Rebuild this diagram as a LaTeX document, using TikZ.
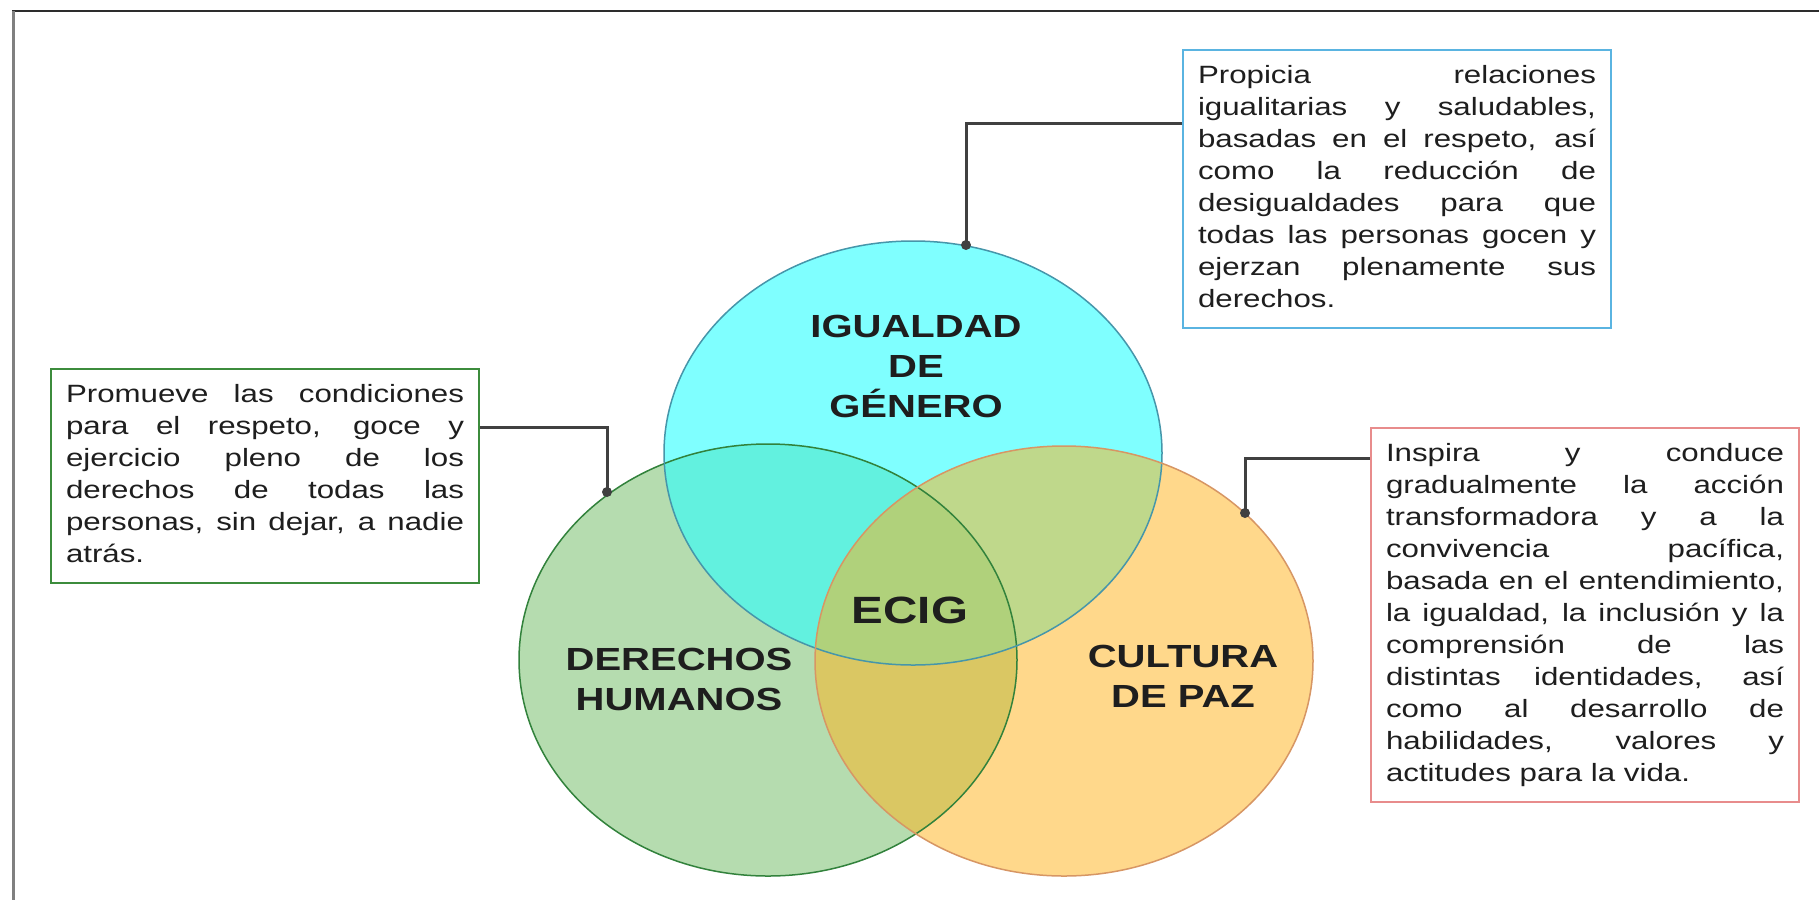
\documentclass[tikz,border=0pt]{standalone}
\usepackage{fontspec}
\setmainfont[FakeStretch=1.25]{Liberation Sans}
\usetikzlibrary{positioning}
\definecolor{igfill}{RGB}{43,255,255}
\definecolor{igline}{RGB}{70,150,170}
\definecolor{dhfill}{RGB}{132,198,123}
\definecolor{dhline}{RGB}{50,130,60}
\definecolor{cpfill}{RGB}{255,179,25}
\definecolor{cpline}{RGB}{215,150,100}
\definecolor{igbox}{RGB}{90,180,225}
\definecolor{dhbox}{RGB}{60,140,60}
\definecolor{cpbox}{RGB}{232,140,140}
\definecolor{conncol}{RGB}{64,64,64}
\definecolor{framedark}{RGB}{45,45,45}
\definecolor{framegray}{RGB}{128,128,128}
\definecolor{txt}{RGB}{30,30,30}
\hyphenpenalty=10000
\tolerance=10000

\begin{document}
\begin{tikzpicture}[x=1pt,y=-1pt,
  venn/.style={fill opacity=0.6},
  rim/.style={line width=1.5pt},
  txtbox/.style={draw, line width=2pt, fill=white, text=txt, align=justify, text width=398pt, inner xsep=15pt, inner ysep=11pt, anchor=north west, font=\fontsize{25}{32}\selectfont},
  conn/.style={conncol, line width=3pt},
  lbl/.style={font=\bfseries\fontsize{32}{40}\selectfont, align=center, text=txt}]

\useasboundingbox (0,0) rectangle (1819,900);
\fill[white] (0,0) rectangle (1819,900);

\draw[framedark, line width=2.5pt] (12,11) -- (1819,11);
\draw[framegray, line width=3pt] (13,11) -- (13,900);

% circles
\fill[dhfill, venn] (768,660) ellipse [x radius=249, y radius=216];
\fill[igfill, venn] (913,453) ellipse [x radius=249, y radius=212];
\fill[cpfill, venn, fill opacity=0.5] (1064,661) ellipse [x radius=249, y radius=215];
\draw[dhline, rim] (768,660) ellipse [x radius=249, y radius=216];
\draw[igline, rim] (913,453) ellipse [x radius=249, y radius=212];
\draw[cpline, rim] (1064,661) ellipse [x radius=249, y radius=215];

\node[lbl] (iglbl) at (916,366) {IGUALDAD\\DE\\GÉNERO};
\node[lbl] (dhlbl) at (679,679) {DERECHOS\\HUMANOS};
\node[lbl] (cplbl) at (1183,676) {CULTURA\\DE PAZ};
\node[lbl, font=\bfseries\fontsize{38}{40}\selectfont] (ecig) at (910,610) {ECIG};

% text boxes
\node[txtbox, draw=igbox] (igtext) at (1182,49)
  {\strut Propicia relaciones\linebreak igualitarias y saludables,\linebreak basadas en el respeto, así\linebreak como la reducción de\linebreak desigualdades para que\linebreak todas las personas gocen y\linebreak ejerzan plenamente sus\linebreak derechos.\strut};

\node[txtbox, draw=dhbox] (dhtext) at (50,368)
  {\strut Promueve las condiciones\linebreak para el respeto, goce y\linebreak ejercicio pleno de los\linebreak derechos de todas las\linebreak personas, sin dejar, a nadie\linebreak atrás.\strut};

\node[txtbox, draw=cpbox] (cptext) at (1370,427)
  {\strut Inspira y conduce\linebreak gradualmente la acción\linebreak transformadora y a la\linebreak convivencia pacífica,\linebreak basada en el entendimiento,\linebreak la igualdad, la inclusión y la\linebreak comprensión de las\linebreak distintas identidades, así\linebreak como al desarrollo de\linebreak habilidades, valores y\linebreak actitudes para la vida.\strut};

% connectors
\coordinate (igdot) at (966,245);
\coordinate (igknee) at (966,123);
\coordinate (dhdot) at (607,492);
\coordinate (dhknee) at (607,427);
\coordinate (cpdot) at (1245,513);
\coordinate (cpknee) at (1245,458);

\draw[conn] (igtext.west |- igknee) -- (igknee) -- (igdot);
\draw[conn] (dhtext.east |- dhknee) -- (dhknee) -- (dhdot);
\draw[conn] (cptext.west |- cpknee) -- (cpknee) -- (cpdot);
\fill[conncol] (igdot) circle [radius=5];
\fill[conncol] (dhdot) circle [radius=5];
\fill[conncol] (cpdot) circle [radius=5];

\end{tikzpicture}
\end{document}
